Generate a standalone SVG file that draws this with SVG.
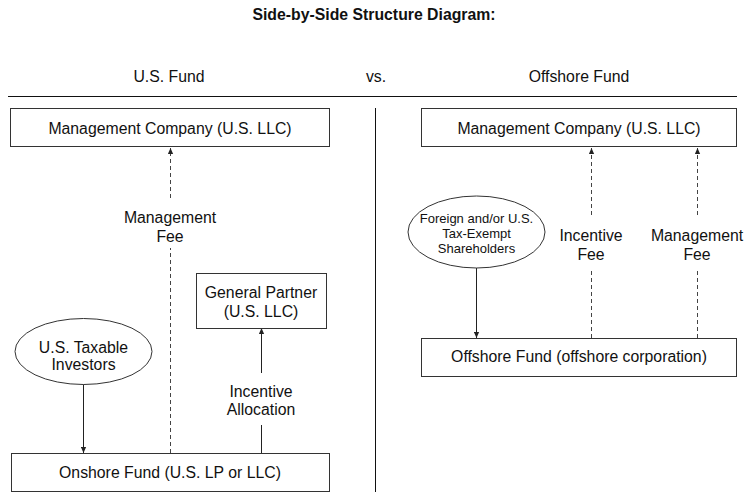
<svg xmlns="http://www.w3.org/2000/svg" width="744" height="492" viewBox="0 0 744 492">
<defs>
<style>
text{font-family:"Liberation Sans",Arial,Helvetica,sans-serif;font-size:15.8px;fill:#111;text-anchor:middle}
.title{font-weight:bold}
.small{font-size:13px}
.box{fill:#fff;stroke:#333;stroke-width:1}
.rule{stroke:#111;stroke-width:1;fill:none}
.solid{stroke:#222;stroke-width:1;fill:none}
.dash{stroke:#444;stroke-width:1;fill:none;stroke-dasharray:4 3}
</style>
<marker id="arr" viewBox="0 0 8 8" refX="8" refY="4" markerWidth="6" markerHeight="6" markerUnits="userSpaceOnUse" orient="auto">
<path d="M0,0.5 L8,4 L0,7.5 Z" fill="#222"/>
</marker>
</defs>
<rect width="744" height="492" fill="#fff"/>
<g id="header">
<text class="title" x="374" y="19.5">Side-by-Side Structure Diagram:</text>
<text x="169" y="82">U.S. Fund</text>
<text x="376" y="82">vs.</text>
<text x="579" y="82">Offshore Fund</text>
<line class="rule" x1="8" y1="96.5" x2="737" y2="96.5"/>
<line class="rule" x1="375.5" y1="108" x2="375.5" y2="492"/>
</g>
<g id="connectors">
<line class="dash" x1="170.5" y1="198" x2="170.5" y2="148" marker-end="url(#arr)"/>
<line class="dash" x1="170.5" y1="453" x2="170.5" y2="248"/>
<line class="solid" x1="83.5" y1="384" x2="83.5" y2="453" marker-end="url(#arr)"/>
<line class="solid" x1="261.5" y1="453" x2="261.5" y2="425"/>
<line class="solid" x1="261.5" y1="373" x2="261.5" y2="328" marker-end="url(#arr)"/>
<line class="solid" x1="476.5" y1="268" x2="476.5" y2="338" marker-end="url(#arr)"/>
<line class="dash" x1="591.5" y1="215" x2="591.5" y2="148" marker-end="url(#arr)"/>
<line class="dash" x1="591.5" y1="338" x2="591.5" y2="270"/>
<line class="dash" x1="697.5" y1="215" x2="697.5" y2="148" marker-end="url(#arr)"/>
<line class="dash" x1="697.5" y1="338" x2="697.5" y2="270"/>
<text x="170" y="223">Management</text>
<text x="170" y="242">Fee</text>
<text x="261" y="397">Incentive</text>
<text x="261" y="415">Allocation</text>
<text x="591" y="241">Incentive</text>
<text x="591" y="260">Fee</text>
<text x="697" y="241">Management</text>
<text x="697" y="260">Fee</text>
</g>
<g id="us-mgmt">
<rect class="box" x="10.5" y="108.5" width="319" height="38"/>
<text x="170" y="134">Management Company (U.S. LLC)</text>
</g>
<g id="general-partner">
<rect class="box" x="196.5" y="273.5" width="130" height="55"/>
<text x="261" y="298">General Partner</text>
<text x="261" y="317">(U.S. LLC)</text>
</g>
<g id="us-investors">
<ellipse class="box" cx="83.5" cy="351.5" rx="68.5" ry="33"/>
<text x="83.5" y="352.5">U.S. Taxable</text>
<text x="83.5" y="370">Investors</text>
</g>
<g id="onshore-fund">
<rect class="box" x="11.5" y="453.5" width="318" height="38"/>
<text x="170" y="478">Onshore Fund (U.S. LP or LLC)</text>
</g>
<g id="off-mgmt">
<rect class="box" x="421.5" y="108.5" width="315" height="38"/>
<text x="579" y="134">Management Company (U.S. LLC)</text>
</g>
<g id="foreign-shareholders">
<ellipse class="box" cx="476.5" cy="232" rx="68.5" ry="36"/>
<text class="small" x="476.5" y="222.5">Foreign and/or U.S.</text>
<text class="small" x="476.5" y="237.5">Tax-Exempt</text>
<text class="small" x="476.5" y="252.5">Shareholders</text>
</g>
<g id="offshore-fund">
<rect class="box" x="421.5" y="338.5" width="315" height="38"/>
<text x="579" y="362">Offshore Fund (offshore corporation)</text>
</g>
</svg>
